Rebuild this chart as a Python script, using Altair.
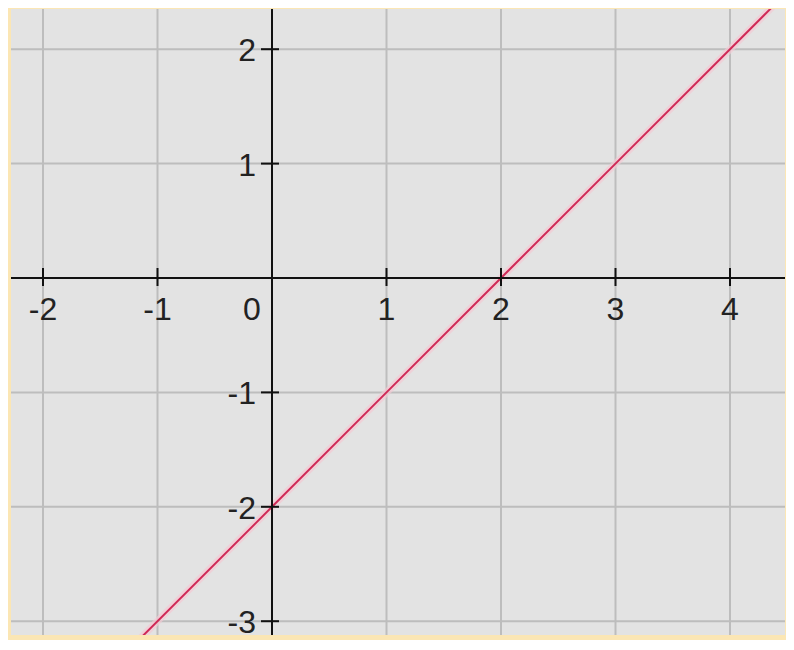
import altair as alt
import pandas as pd

# ---- data ----
grid_x = [-2, -1, 1, 2, 3, 4]
grid_y = [-3, -2, -1, 1, 2]
x_tick_pos = [-2, -1, 1, 2, 3, 4]
y_tick_pos = [-3, -2, -1, 1, 2]
x_label_pos = [-2, -1, 1, 2, 3, 4]
x_label_txt = ["-2", "-1", "1", "2", "3", "4"]
zero_label = ["0"]
y_label_pos = [2, 1, -1, -2, -3]
y_label_txt = ["2", "1", "-1", "-2", "-3"]
line_x = [-1.5, 0, 1, 2, 3, 4, 4.5]
line_y = [-3.5, -2, -1, 0, 1, 2, 2.5]

XS = alt.Scale(domain=[-2.2795, 4.4803], nice=False, zero=False)
YS = alt.Scale(domain=[-3.1206, 2.3514], nice=False, zero=False)

FONT = "Liberation Sans"
TXT = "#222222"

gx = pd.DataFrame({"x": grid_x})
gy = pd.DataFrame({"y": grid_y})
tx = pd.DataFrame({"x": x_tick_pos, "y0": [0] * len(x_tick_pos)})
ty = pd.DataFrame({"y": y_tick_pos, "x0": [0] * len(y_tick_pos)})
lx = pd.DataFrame({"x": x_label_pos, "t": x_label_txt, "y0": [0] * len(x_label_pos)})
lz = pd.DataFrame({"x": [0], "t": zero_label, "y0": [0]})
ly = pd.DataFrame({"y": y_label_pos, "t": y_label_txt, "x0": [0] * len(y_label_pos)})
ln = pd.DataFrame({"x": line_x, "y": line_y})
ax = pd.DataFrame({"v": [0]})

def X(f):
    return alt.X(f, scale=XS, axis=None)

def Y(f):
    return alt.Y(f, scale=YS, axis=None)

grid_v = alt.Chart(gx).mark_rule(color="#bdbdbd", strokeWidth=2).encode(x=X("x:Q"))
grid_h = alt.Chart(gy).mark_rule(color="#bdbdbd", strokeWidth=2).encode(y=Y("y:Q"))

halo = alt.Chart(ln).mark_line(clip=True, color="#f3c9d3", strokeWidth=7, opacity=0.7).encode(
    x=X("x:Q"), y=Y("y:Q"))
line = alt.Chart(ln).mark_line(clip=True, color="#d02a57", strokeWidth=2).encode(
    x=X("x:Q"), y=Y("y:Q"))

axis_v = alt.Chart(ax).mark_rule(color="#111111", strokeWidth=2).encode(x=X("v:Q"))
axis_h = alt.Chart(ax).mark_rule(color="#111111", strokeWidth=2).encode(y=Y("v:Q"))

ticks_x = alt.Chart(tx).mark_rule(color="#111111", strokeWidth=2, yOffset=-10, y2Offset=8).encode(
    x=X("x:Q"), y=Y("y0:Q"), y2="y0:Q")
ticks_y = alt.Chart(ty).mark_rule(color="#111111", strokeWidth=2, xOffset=-11, x2Offset=7).encode(
    y=Y("y:Q"), x=X("x0:Q"), x2="x0:Q")

labels_x = alt.Chart(lx).mark_text(font=FONT, fontSize=32, color=TXT, align="center",
                                   baseline="alphabetic", dy=42).encode(
    x=X("x:Q"), y=Y("y0:Q"), text="t:N")
label_zero = alt.Chart(lz).mark_text(font=FONT, fontSize=32, color=TXT, align="center",
                                     baseline="alphabetic", dy=42, dx=-20).encode(
    x=X("x:Q"), y=Y("y0:Q"), text="t:N")
labels_y = alt.Chart(ly).mark_text(font=FONT, fontSize=32, color=TXT, align="right",
                                   baseline="alphabetic", dx=-16, dy=12).encode(
    x=X("x0:Q"), y=Y("y:Q"), text="t:N")

chart = alt.layer(
    grid_v, grid_h, halo, line, axis_v, axis_h, ticks_x, ticks_y, labels_x, label_zero, labels_y
).properties(
    width=774, height=626,
    background="#fbe6b4",
    padding={"left": 2, "top": 0, "right": 0, "bottom": 0},
).configure_view(fill="#e3e3e3", stroke=None)

chart.save("out.html", embed_options={"renderer": "svg", "actions": False})
